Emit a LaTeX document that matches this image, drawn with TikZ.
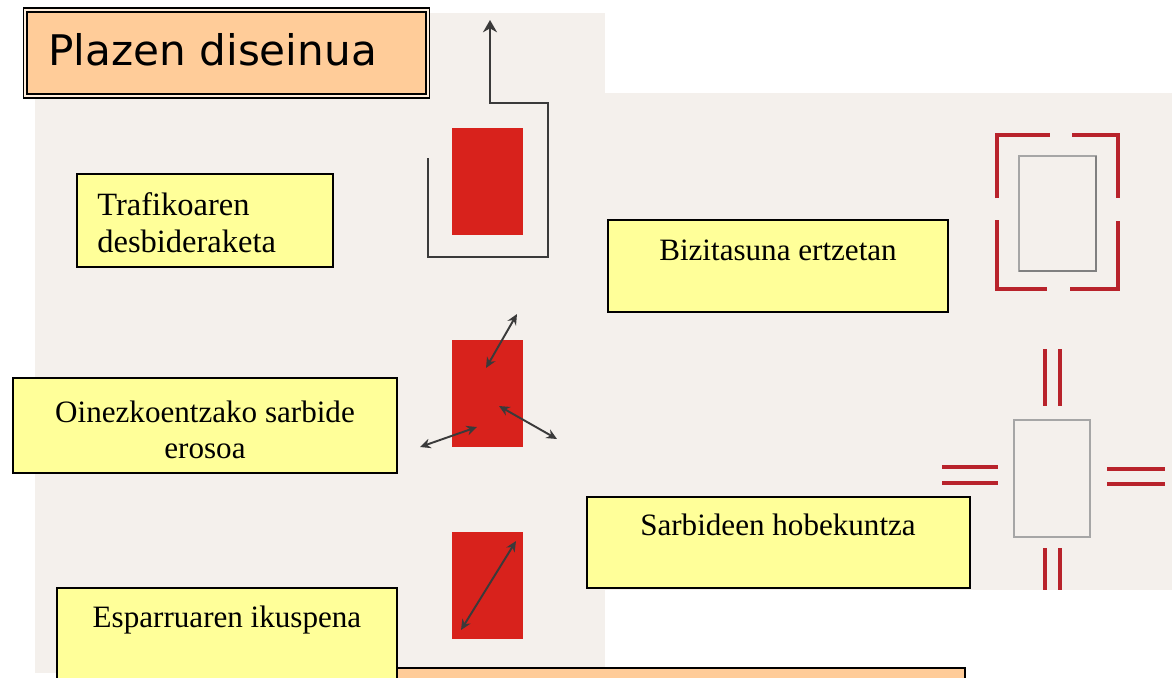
\documentclass[tikz,border=0pt]{standalone}
\usepackage{fontspec}
\setmainfont{Liberation Serif}
\newfontfamily\titlefont{DejaVu Sans}
\usetikzlibrary{arrows.meta,positioning}

\definecolor{scanbg}{HTML}{F4F0EC}
\definecolor{boxyellow}{HTML}{FFFF99}
\definecolor{boxorange}{HTML}{FFCC99}
\definecolor{blockred}{HTML}{D8221C}
\definecolor{markred}{HTML}{B8232B}
\definecolor{inkgrey}{HTML}{3A3A3A}

\begin{document}
\begin{tikzpicture}[
  x=0.02cm, y=-0.02cm,
  font=\fontsize{17.7}{20.4}\selectfont,
  ybox/.style={draw=black,line width=1pt,fill=boxyellow,inner sep=0pt},
  txt/.style={inner sep=0pt,anchor=base,align=center},
  block/.style={fill=blockred,inner sep=0pt,minimum width=1.42cm,minimum height=2.14cm},
  route/.style={draw=inkgrey,line width=1.6pt},
  twoway/.style={{Stealth[length=6pt,width=5.5pt]}-{Stealth[length=6pt,width=5.5pt]},draw=inkgrey,line width=1.1pt},
  corner/.style={draw=markred,line width=2.3pt},
  gate/.style={draw=markred,line width=2.3pt},
  plan/.style={draw=gray!70,line width=0.8pt},
]
  \useasboundingbox (0,0) rectangle (1172,677);
  \clip (0,0) rectangle (1172,677);

  % scanned panels
  \fill[scanbg] (35,13) rectangle (605,673);
  \fill[scanbg] (604,93) rectangle (1172,590);

  % traffic diversion
  \node (blockA) [block] at (487,181.5) {};
  \draw[route,-{Stealth[length=7pt,width=8pt]}] (428,158) -- (428,257) -- (548,257) -- (548,103) -- (490,103) -- (490,20);

  % pedestrian access
  \node (blockB) [block] at (487.5,393.5) {};
  \draw[twoway] (486,368) -- (517,314);
  \draw[twoway] (499,406) -- (557,439);
  \draw[twoway] (477,427) -- (420,447);

  % view over the space
  \node (blockC) [block] at (487.5,585) {};
  \draw[twoway] (461,630) -- (516,541);

  % life at the edges
  \draw[plan] (1019,156) rectangle (1096,271);
  \draw[draw=gray,line width=1pt] (1019,271) -- (1096,271) -- (1096,156);
  \draw[corner] (997,198) -- (997,135) -- (1050,135);
  \draw[corner] (1072,135) -- (1118,135) -- (1118,198);
  \draw[corner] (997,220) -- (997,289) -- (1047,289);
  \draw[corner] (1070,289) -- (1118,289) -- (1118,221);

  % better entrances
  \draw[plan] (1014,420) rectangle (1090,537);
  \draw[gate] (1045,349) -- (1045,406) (1060,349) -- (1060,406);
  \draw[gate] (1045,548) -- (1045,590) (1060,548) -- (1060,590);
  \draw[gate] (942,467) -- (998,467) (942,483) -- (998,483);
  \draw[gate] (1107,469) -- (1165,469) (1107,484) -- (1165,484);

  % text boxes
  \node (trafBox) [ybox,minimum width=5.12cm,minimum height=1.86cm] at (205,220.5) {};
  \node (trafTxt) [txt,anchor=base west,align=left,font=\fontsize{18.5}{21}\selectfont] at (97,252) {Trafikoaren\\desbideraketa};

  \node (bizBox) [ybox,minimum width=6.8cm,minimum height=1.84cm] at (778,266) {};
  \node (bizTxt) [txt] at (778,260) {Bizitasuna ertzetan};

  \node (oinBox) [ybox,minimum width=7.68cm,minimum height=1.9cm] at (205,425.5) {};
  \node (oinTxt) [txt] at (205,458) {Oinezkoentzako sarbide\\erosoa};

  \node (sarBox) [ybox,minimum width=7.66cm,minimum height=1.82cm] at (778.5,542.5) {};
  \node (sarTxt) [txt] at (778,535) {Sarbideen hobekuntza};

  \node (nextBox) [draw=black,line width=1pt,fill=boxorange,minimum width=11.36cm,minimum height=1.44cm] at (681,704) {};
  \node (espBox) [ybox,minimum width=6.8cm,minimum height=2.64cm] at (227,654) {};
  \node (espTxt) [txt] at (227,627) {Esparruaren ikuspena};

  % title
  \node (title) [draw=black,line width=0.9pt,double=boxorange!35!white,double distance=1.1pt,fill=boxorange,minimum width=8.05cm,minimum height=1.72cm] at (226.5,53) {};
  \node (titleTxt) [anchor=base west,inner sep=0pt,font=\titlefont\fontsize{24}{28}\selectfont] at (48,65) {Plazen diseinua};
\end{tikzpicture}
\end{document}
